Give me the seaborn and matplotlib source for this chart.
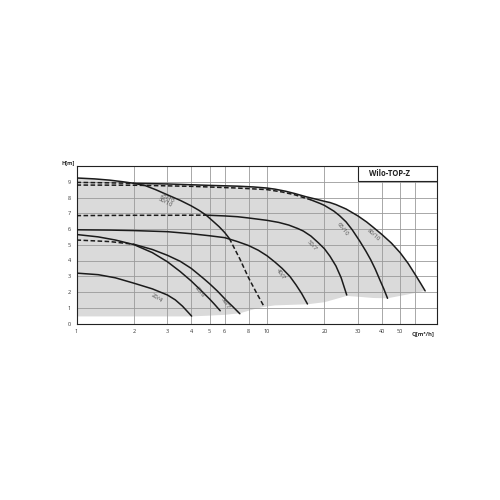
import numpy as np
import pandas as pd
import matplotlib
matplotlib.use("Agg")
import matplotlib.pyplot as plt
from matplotlib.patches import Rectangle
import seaborn as sns

# ──────────────────────────────────────────────────
# DATA  (Q in m³/h, H in m)
# ──────────────────────────────────────────────────
q_20_4 = [1, 1.3, 1.6, 2, 2.5, 3, 3.3, 3.6, 4.02]
h_20_4 = [3.2, 3.1, 2.9, 2.56, 2.2, 1.81, 1.5, 1.1, 0.47]

q_25_6 = [1, 1.3, 1.6, 2, 2.5, 3, 3.5, 4, 4.5, 5.0, 5.3, 5.68]
h_25_6 = [5.65, 5.5, 5.3, 5.01, 4.5, 3.92, 3.3, 2.7, 2.1, 1.55, 1.22, 0.81]

q_30_7_dash = [1, 1.5, 2]
h_30_7_dash = [5.3, 5.2, 5.03]
q_30_7 = [2, 2.5, 3, 3.5, 4, 4.62, 5, 5.5, 6.13, 6.6, 7.2]
h_30_7 = [5.03, 4.7, 4.33, 3.95, 3.5, 2.88, 2.52, 2.05, 1.45, 1.08, 0.62]

q_40_7 = [1, 1.5, 2, 3, 4, 5, 6, 7, 8, 9, 10, 11, 12, 13.2, 14.2, 15.2, 16.3]
h_40_7 = [5.95, 5.93, 5.9, 5.83, 5.7, 5.57, 5.45, 5.2, 4.95, 4.65, 4.3, 3.9, 3.5, 2.98, 2.45, 1.9, 1.24]

q_50_7_dash = [1, 2, 3, 4.78]
h_50_7_dash = [6.85, 6.87, 6.87, 6.88]
q_50_7 = [4.78, 6, 7, 8, 10, 11.5, 13, 14.5, 15.5, 17, 18.5, 20, 21.4, 23, 24.5, 26.2]
h_50_7 = [6.88, 6.83, 6.78, 6.7, 6.55, 6.42, 6.25, 6.03, 5.87, 5.55, 5.15, 4.75, 4.27, 3.65, 2.9, 1.81]

q_25_10 = [1, 1.25, 1.5, 1.75, 2, 2.3, 2.6, 3, 3.5, 4, 4.4, 4.8, 5.2, 5.6, 6, 6.34]
h_25_10 = [9.24, 9.18, 9.1, 9.0, 8.9, 8.75, 8.5, 8.17, 7.82, 7.47, 7.18, 6.87, 6.5, 6.15, 5.77, 5.4]
q_25_10_dash = [6.34, 7.2, 8, 8.8, 9.57]
h_25_10_dash = [5.4, 4.1, 2.9, 1.95, 1.15]

q_65_10_dash = [1, 2, 4, 7, 10, 12, 14, 15.5, 17]
h_65_10_dash = [8.79, 8.78, 8.71, 8.6, 8.5, 8.35, 8.17, 8.0, 7.85]
q_65_10 = [17, 19, 20, 22.4, 24, 26, 28, 30.7, 33, 35, 37, 39, 41, 42.9]
h_65_10 = [7.85, 7.62, 7.5, 7.14, 6.85, 6.45, 5.95, 5.22, 4.6, 4.05, 3.45, 2.8, 2.2, 1.6]

q_80_10_dash = [1, 1.5, 2]
h_80_10_dash = [8.96, 8.93, 8.9]
q_80_10 = [2, 3, 4, 5, 7, 8.5, 10, 11, 12.5, 14, 16, 18, 20, 21.4, 23, 26, 30, 33.3,
           36, 40, 45, 50, 55, 60, 64, 67.6]
h_80_10 = [8.9, 8.86, 8.81, 8.77, 8.72, 8.67, 8.6, 8.53, 8.4, 8.25, 8.05, 7.9, 7.76,
           7.68, 7.55, 7.27, 6.83, 6.45, 6.12, 5.66, 5.1, 4.49, 3.82, 3.1, 2.55, 2.07]

# lower edge of the grey operating range
q_floor = [1, 4, 5, 6, 7.2, 8.5, 9.6, 11, 16.3, 20, 26.2, 30, 36, 42.9, 55, 67.6]
h_floor = [0.45, 0.45, 0.5, 0.55, 0.65, 0.9, 1.05, 1.15, 1.22, 1.35, 1.75, 1.7, 1.62, 1.6, 1.85, 2.07]

segments = [
    ("20/4",  q_20_4,  h_20_4,  "solid"),
    ("25/6",  q_25_6,  h_25_6,  "solid"),
    ("30/7",  q_30_7_dash, h_30_7_dash, "dash"),
    ("30/7",  q_30_7,  h_30_7,  "solid"),
    ("40/7",  q_40_7,  h_40_7,  "solid"),
    ("50/7",  q_50_7_dash, h_50_7_dash, "dash"),
    ("50/7",  q_50_7,  h_50_7,  "solid"),
    ("25/10", q_25_10, h_25_10, "solid"),
    ("25/10", q_25_10_dash, h_25_10_dash, "dash"),
    ("65/10", q_65_10_dash, h_65_10_dash, "dash"),
    ("65/10", q_65_10, h_65_10, "solid"),
    ("80/10", q_80_10_dash, h_80_10_dash, "dash"),
    ("80/10", q_80_10, h_80_10, "solid"),
]

curve_labels = ["25/10\n30/10", "20/4", "25/6", "30/7", "40/7", "50/7", "65/10", "80/10"]
label_q = [2.97, 2.63, 4.45, 6.0, 11.8, 17.1, 24.9, 36.0]
label_h = [7.85, 1.6, 2.0, 1.28, 3.15, 4.97, 5.97, 5.62]
label_rot = [-28, -32, -52, -58, -55, -48, -52, -42]

x_ticks = [1, 2, 3, 4, 5, 6, 8, 10, 20, 30, 40, 50, 60]
x_ticklabels = ["1", "2", "3", "4", "5", "6", "8", "10", "20", "30", "40", "50", ""]
y_ticks = list(range(0, 11))
y_ticklabels = [str(v) for v in range(0, 10)] + [""]

# ──────────────────────────────────────────────────
# PLOT
# ──────────────────────────────────────────────────
sns.set_theme(style="white")
plt.rcParams["font.family"] = ["Open Sans", "DejaVu Sans"]

fig = plt.figure(figsize=(5, 5), dpi=100)
ax = fig.add_axes([0.153, 0.353, 0.721, 0.315])
ax.set_xscale("log")

# grey operating range: floor left→right, then top envelope right→left
top_q = q_25_10[:5] + q_80_10[1:]
top_h = h_25_10[:5] + h_80_10[1:]
poly_q = q_floor + top_q[::-1]
poly_h = h_floor + top_h[::-1]
ax.fill(poly_q, poly_h, color="#dadada", lw=0, zorder=0.3)

rows = []
for i, (name, q, h, style) in enumerate(segments):
    for qq, hh in zip(q, h):
        rows.append({"Q": qq, "H": hh, "curve": name, "seg": i, "style": style})
df = pd.DataFrame(rows)

for i, seg in df.groupby("seg"):
    style = seg["style"].iloc[0]
    sns.lineplot(data=seg, x="Q", y="H", ax=ax, sort=False, estimator=None,
                 color="#1b1b1b", lw=1.1, zorder=3, solid_joinstyle="round",
                 dashes=False, linestyle="-" if style == "solid" else (0, (3, 1.6)))

for txt, q, h, r in zip(curve_labels, label_q, label_h, label_rot):
    ax.text(q, h, txt, rotation=r, fontsize=4.2, color="#4d4d4d",
            ha="center", va="center", linespacing=0.85, zorder=4)

ax.set_xlim(1, 78)
ax.set_ylim(0, 10)
ax.set_xticks(x_ticks)
ax.set_xticklabels(x_ticklabels)
ax.set_xticks([], minor=True)
ax.set_yticks(y_ticks)
ax.set_yticklabels(y_ticklabels)
ax.tick_params(axis="both", length=0, labelsize=4, colors="#333333", pad=4)
ax.grid(True, color="#9a9a9a", lw=0.6)
ax.set_axisbelow(True)
ax.set_xlabel("")
ax.set_ylabel("")
for sp in ax.spines.values():
    sp.set_color("#222222")
    sp.set_linewidth(0.8)

ax.text(66, -0.62, "Q[m³/h]", fontsize=4.2, fontweight="bold", color="#333333",
        ha="center", va="center")
ax.text(0.975, 10.2, "H[m]", fontsize=4, fontweight="bold", color="#333333",
        ha="right", va="center")

# title box
ax.add_patch(Rectangle((30, 9.05), 48, 0.95, facecolor="white", edgecolor="#222222",
                       lw=0.8, zorder=5))
ax.text(44, 9.52, "Wilo-TOP-Z", fontsize=5.5, fontweight="bold", color="#222222",
        ha="center", va="center", zorder=6)

plt.savefig("out.png", dpi=100)
plt.close()
